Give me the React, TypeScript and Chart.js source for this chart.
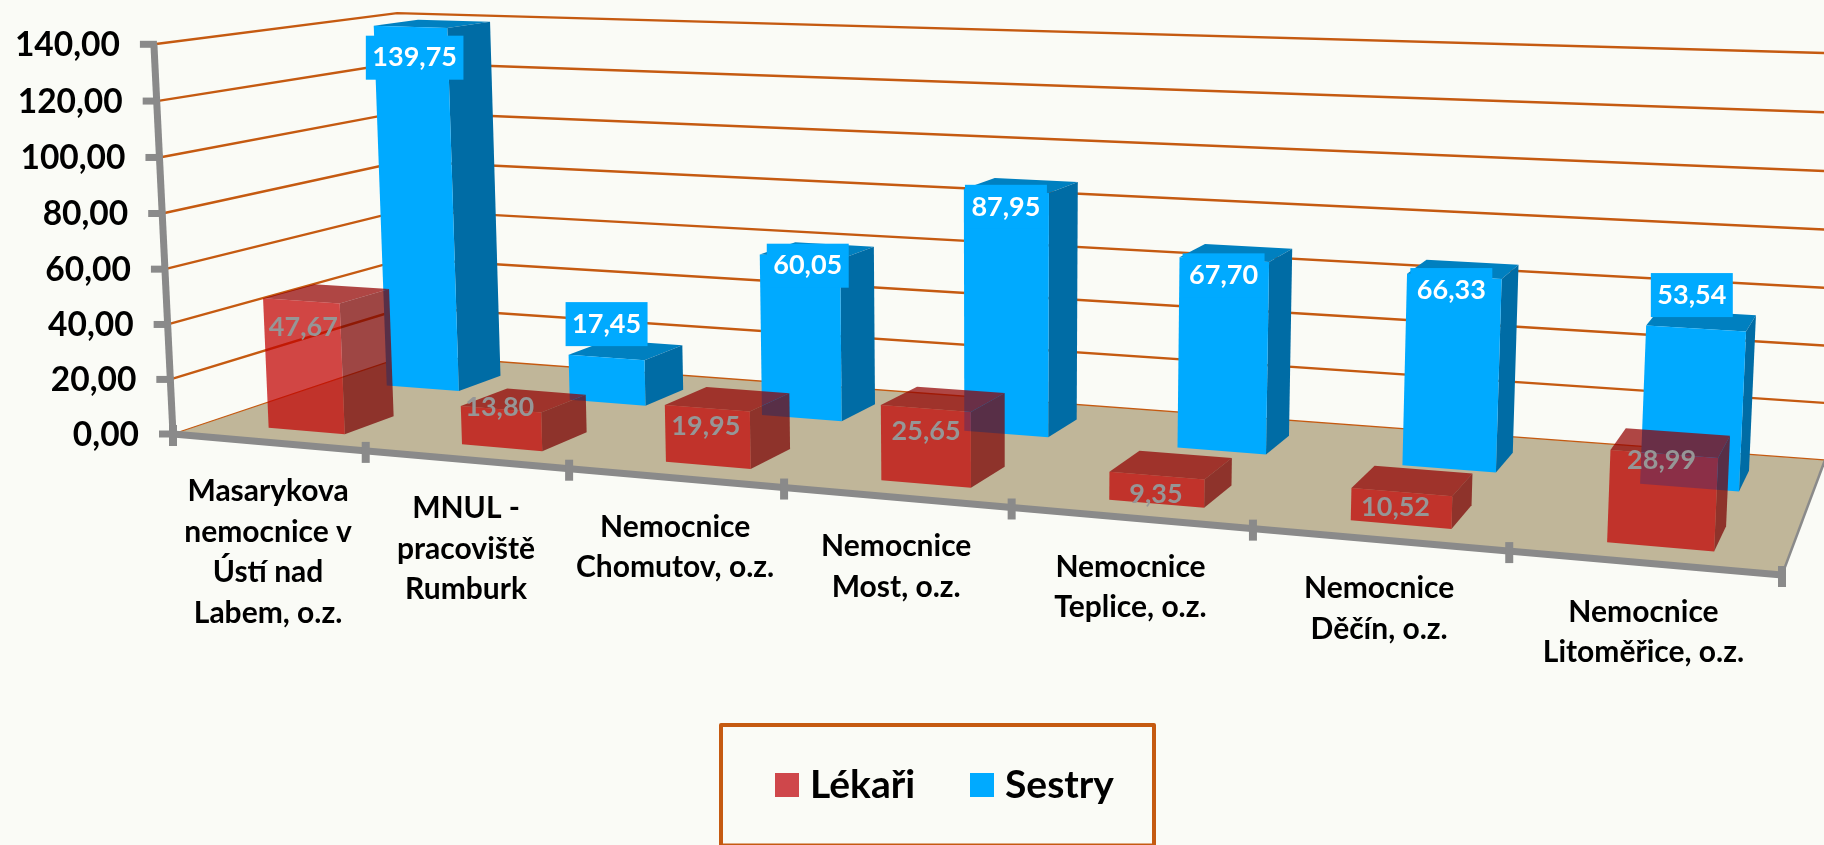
import React, { useEffect, useRef } from "react";
import { Chart, BarController, registerables } from "chart.js";

const categories = [
  ["Masarykova", "nemocnice v", "Ústí nad", "Labem, o.z."],
  ["MNUL -", "pracoviště", "Rumburk"],
  ["Nemocnice", "Chomutov, o.z."],
  ["Nemocnice", "Most, o.z."],
  ["Nemocnice", "Teplice, o.z."],
  ["Nemocnice", "Děčín, o.z."],
  ["Nemocnice", "Litoměřice, o.z."],
];
const lekari = [47.67, 13.8, 19.95, 25.65, 9.35, 10.52, 28.99];
const sestry = [139.75, 17.45, 60.05, 87.95, 67.7, 66.33, 53.54];
const labelNudgeX = [[6, 3, 3, 5, 4, -1, 3], [8, 4, 12, 4, 4, 2, 1]];
const labelNudgeY = [[27, -2, 18, 23, 19, 16, 7], [31, -33, 9, 16, 16, 14, -33]];
const rowDepth = [[0.13, 0.335], [0.64, 0.84]];
const rowShift = [0.004, 0.002];

const BG = "#FAFBF6";
const ORANGE = "#C55A11";
const GRAY = "#8A8A8A";
const FONT = "Lato";
const fmt = (v: number) => v.toFixed(2).replace(".", ",");

type P = [number, number];
const F00: P = [173, 434], F10: P = [1782, 575], F11: P = [1825, 460], F01: P = [409, 355];
const T00: P = [154, 44], T01: P = [397, 13], T11: P = [1845, 54];

function makeProjector() {
  const [x0, y0] = F00, [x1, y1] = F10, [x2, y2] = F11, [x3, y3] = F01;
  const dx1 = x1 - x2, dx2 = x3 - x2, sx = x0 - x1 + x2 - x3;
  const dy1 = y1 - y2, dy2 = y3 - y2, sy = y0 - y1 + y2 - y3;
  const det = dx1 * dy2 - dx2 * dy1;
  const g = (sx * dy2 - dx2 * sy) / det, h = (dx1 * sy - sx * dy1) / det;
  const a = x1 - x0 + g * x1, b = x3 - x0 + h * x3, c = x0;
  const d = y1 - y0 + g * y1, e = y3 - y0 + h * y3, f = y0;
  const pts: [number, number, P][] = [[0, 0, T00], [0, 1, T01], [1, 1, T11]];
  const rows: number[][] = [], rhs: number[] = [];
  for (const [u, v, [X, Y]] of pts) {
    const W = g * u + h * v + 1;
    rows.push([1, 0, -X]); rhs.push(X * W - (a * u + b * v + c));
    rows.push([0, 1, -Y]); rhs.push(Y * W - (d * u + e * v + f));
  }
  const A = [0, 1, 2].map((i) => [0, 1, 2].map((j) => rows.reduce((s, r) => s + r[i] * r[j], 0)));
  const B = [0, 1, 2].map((i) => rows.reduce((s, r, k) => s + r[i] * rhs[k], 0));
  const D3 = (m: number[][]) =>
    m[0][0] * (m[1][1] * m[2][2] - m[1][2] * m[2][1]) -
    m[0][1] * (m[1][0] * m[2][2] - m[1][2] * m[2][0]) +
    m[0][2] * (m[1][0] * m[2][1] - m[1][1] * m[2][0]);
  const D = D3(A);
  const sol = [0, 1, 2].map((k) => D3(A.map((r, i) => r.map((val, j) => (j === k ? B[i] : val)))) / D);
  const [p, q, r] = sol;
  return (u: number, v: number, z: number): P => {
    const W = g * u + h * v + 1 + r * z;
    return [(a * u + b * v + c + p * z) / W, (d * u + e * v + f + q * z) / W];
  };
}
const project = makeProjector();

function poly(ctx: CanvasRenderingContext2D, pts: P[], fill: string) {
  ctx.beginPath();
  pts.forEach((p, i) => (i ? ctx.lineTo(p[0], p[1]) : ctx.moveTo(p[0], p[1])));
  ctx.closePath();
  ctx.fillStyle = fill;
  ctx.fill();
}
function line(ctx: CanvasRenderingContext2D, pts: P[], color: string, w: number) {
  ctx.beginPath();
  pts.forEach((p, i) => (i ? ctx.lineTo(p[0], p[1]) : ctx.moveTo(p[0], p[1])));
  ctx.strokeStyle = color;
  ctx.lineWidth = w;
  ctx.stroke();
}
function barGeom(chart: any, el: any, di: number) {
  const area = chart.chartArea;
  const ys = chart.scales.y;
  const uc = (el.x - area.left) / area.width + rowShift[di];
  const hw = el.width / 2 / area.width;
  const z = (el.base - el.y) / (ys.bottom - ys.top);
  return { uc, hw, z };
}

class Bar3DController extends BarController {
  static id = "bar3d";
  static defaults = BarController.defaults;
  static overrides = BarController.overrides;
  draw() {
    const meta = this.getMeta();
    const ds: any = this.getDataset();
    const ctx = this.chart.ctx;
    const [d1, d2] = rowDepth[this.index];
    ctx.save();
    meta.data.forEach((el: any) => {
      const { uc, hw, z } = barGeom(this.chart, el, this.index);
      const u1 = uc - hw, u2 = uc + hw;
      poly(ctx, [project(u1, d1, z), project(u1, d2, z), project(u2, d2, z), project(u2, d1, z)], ds.topColor);
      poly(ctx, [project(u2, d1, 0), project(u2, d2, 0), project(u2, d2, z), project(u2, d1, z)], ds.sideColor);
      poly(ctx, [project(u1, d1, 0), project(u2, d1, 0), project(u2, d1, z), project(u1, d1, z)], ds.backgroundColor);
    });
    ctx.restore();
  }
}
Chart.register(...registerables, Bar3DController);

const scene = {
  id: "scene",
  beforeDatasetsDraw(chart: any) {
    const ctx: CanvasRenderingContext2D = chart.ctx;
    const ys = chart.scales.y, xs = chart.scales.x, area = chart.chartArea;
    ctx.save();
    ctx.lineCap = "butt";
    poly(ctx, [project(0, 0, 0), project(1, 0, 0), project(1, 1, 0), project(0, 1, 0)], "#C0B699");
    ys.ticks.forEach((t: any) => {
      const z = (ys.bottom - ys.getPixelForValue(t.value)) / (ys.bottom - ys.top);
      line(ctx, [project(0, 0, z), project(0, 1, z), project(1, 1, z)], ORANGE, t.value === 0 ? 1.3 : 2.4);
    });
    line(ctx, [project(1, 0, 0), project(1, 1, 0)], GRAY, 2.5);
    line(ctx, [project(0, 0, 0), project(0, 0, 1)], GRAY, 7);
    line(ctx, [project(0, 0, 0), project(1, 0, 0)], GRAY, 7);
    ctx.textBaseline = "middle";
    ctx.textAlign = "right";
    ctx.font = `bold 33.5px ${FONT}`;
    ys.ticks.forEach((t: any) => {
      const z = (ys.bottom - ys.getPixelForValue(t.value)) / (ys.bottom - ys.top);
      const [x, y] = project(0, 0, z);
      line(ctx, [[x - 14, y], [x + 3, y]], GRAY, 7);
      ctx.fillStyle = "#000";
      ctx.fillText(fmt(t.value), x - 34, y + 1);
    });
    for (let i = 0; i <= 7; i++) {
      const [x, y] = project(i / 7, 0, 0);
      line(ctx, [[x, y - 9], [x, y + 12]], GRAY, 8);
    }
    ctx.textAlign = "center";
    ctx.font = `bold 30px ${FONT}`;
    ctx.fillStyle = "#000";
    categories.forEach((lines, i) => {
      const u = (xs.getPixelForValue(i) - area.left) / area.width;
      const [x, y] = project(u, 0, 0);
      lines.forEach((s, k) => ctx.fillText(s, x, y + 49 + k * 40.5));
    });
    ctx.restore();
  },
  afterDatasetsDraw(chart: any) {
    const ctx: CanvasRenderingContext2D = chart.ctx;
    ctx.save();
    ctx.textAlign = "center";
    ctx.textBaseline = "middle";
    ctx.font = `bold 27px ${FONT}`;
    chart.data.datasets.forEach((ds: any, di: number) => {
      const meta = chart.getDatasetMeta(di);
      meta.data.forEach((el: any, i: number) => {
        const { uc, hw, z } = barGeom(chart, el, di);
        const [x, y] = project(uc - hw * 0.1, rowDepth[di][0], z);
        const cx = x + labelNudgeX[di][i], cy = y + labelNudgeY[di][i];
        const s = fmt(ds.data[i]);
        if (di === 1) {
          const w = ctx.measureText(s).width + 13;
          ctx.fillStyle = "#00AAFF";
          ctx.fillRect(cx - w / 2, cy - 22, w, 44);
          ctx.fillStyle = "#fff";
        } else {
          ctx.fillStyle = "#969696";
        }
        ctx.fillText(s, cx, cy);
      });
    });
    ctx.strokeStyle = ORANGE;
    ctx.lineWidth = 4;
    ctx.lineJoin = "round";
    ctx.strokeRect(721, 725, 433, 120.5);
    ctx.textAlign = "left";
    ctx.font = `bold 39px ${FONT}`;
    const pos = [[775, 810], [970, 1005]];
    chart.data.datasets.forEach((ds: any, di: number) => {
      ctx.fillStyle = ds.legendColor;
      ctx.fillRect(pos[di][0], 773, 24, 24);
      ctx.fillStyle = "#000";
      ctx.fillText(ds.label, pos[di][1], 785);
    });
    ctx.restore();
  },
};

export default function App() {
  const ref = useRef<HTMLCanvasElement>(null);
  useEffect(() => {
    document.body.style.margin = "0";
    document.body.style.background = BG;
    const chart = new Chart(ref.current!, {
      type: "bar3d" as any,
      data: {
        labels: categories as any,
        datasets: [
          { label: "Lékaři", data: lekari, backgroundColor: "rgba(192,0,0,0.72)", sideColor: "rgba(122,0,0,0.72)", topColor: "rgba(146,0,0,0.72)", legendColor: "#CF474B", grouped: false, barPercentage: 0.4, categoryPercentage: 1 } as any,
          { label: "Sestry", data: sestry, backgroundColor: "#00AAFF", sideColor: "#006CA5", topColor: "#0080C0", legendColor: "#00AAFF", grouped: false, barPercentage: 0.4, categoryPercentage: 1 } as any,
        ],
      },
      options: {
        animation: false,
        responsive: false,
        layout: { padding: 0 },
        plugins: { legend: { display: false }, tooltip: { enabled: false } },
        scales: {
          x: { type: "category", display: false, offset: true },
          y: { type: "linear", display: false, min: 0, max: 140, ticks: { stepSize: 20 } },
        },
      },
      plugins: [scene],
    });
    return () => chart.destroy();
  }, []);
  return <canvas ref={ref} width={1824} height={845} style={{ display: "block", background: BG }} />;
}
